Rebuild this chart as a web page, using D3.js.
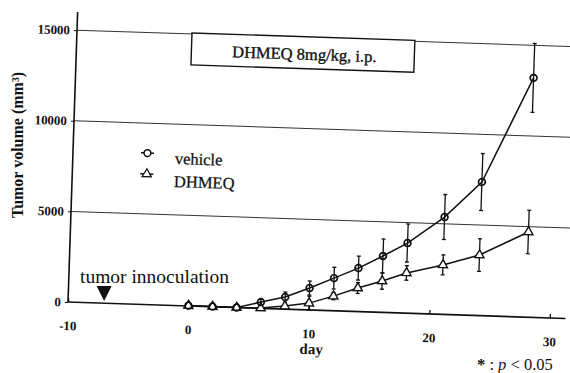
<!DOCTYPE html>
<html>
<head>
<meta charset="utf-8">
<script src="https://cdn.jsdelivr.net/npm/d3@7"></script>
<style>
  body { margin: 0; background: #fff; }
  svg { display: block; }
  text { font-family: "Liberation Serif", "Times New Roman", serif; fill: #111; }
</style>
</head>
<body>
<script>
// ---- data ----
const days        = [0, 2, 4, 6, 8, 10, 12, 14, 16, 18, 21, 24, 28];
const vehicleMean = [20, 10, 0, 350, 670, 1210, 1800, 2400, 3110, 3870, 5370, 7370, 13200];
const vehicleSE   = [40, 40, 40, 150, 280, 390, 600, 660, 940, 1050, 1240, 1570, 1900];
const dhmeqMean   = [20, 10, 0, 20, 170, 380, 810, 1300, 1730, 2220, 2730, 3340, 4700];
const dhmeqSE     = [30, 30, 30, 60, 150, 380, 200, 300, 450, 400, 550, 900, 1200];
const xTicks = [-10, 0, 10, 20, 30];
const yTicks = [0, 5000, 10000, 15000];
const gridValues = [5000, 10000, 15000];
const seriesNames = ["vehicle", "DHMEQ"];
const boxTitle = "DHMEQ 8mg/kg, i.p.";
const inoculationDay = -7;

const W = 570, H = 373;
const svg = d3.select("body").append("svg").attr("width", W).attr("height", H);

const x = d3.scaleLinear().domain([-10, 30]).range([68, 550]);
const y = d3.scaleLinear().domain([0, 15000]).range([302, 30]);

// scanned figure is slightly rotated
const g = svg.append("g").attr("transform", "rotate(1.9,68,302)");

// gridlines
g.selectAll("line.grid").data(gridValues).enter().append("line")
  .attr("class", "grid")
  .attr("x1", x(-10)).attr("x2", x(31.6))
  .attr("y1", d => y(d)).attr("y2", d => y(d))
  .attr("stroke", "#333").attr("stroke-width", 1);

// axis lines
g.append("line").attr("x1", x(-10)).attr("x2", x(31.3)).attr("y1", y(0)).attr("y2", y(0))
  .attr("stroke", "#111").attr("stroke-width", 1.6);
g.append("line").attr("x1", x(-10)).attr("x2", x(-10)).attr("y1", y(0)).attr("y2", y(16000))
  .attr("stroke", "#111").attr("stroke-width", 1.6);

// x axis
const xAxis = g.append("g").attr("transform", `translate(0,${y(0)})`)
  .call(d3.axisBottom(x).tickValues(xTicks).tickSizeInner(-4).tickSizeOuter(0).tickPadding(19).tickFormat(d => String(d)));
xAxis.select(".domain").remove();
xAxis.selectAll(".tick line").attr("stroke", "#111").attr("stroke-width", 1.3);
xAxis.selectAll(".tick text").attr("font-size", 13).attr("font-weight", "bold")
  .attr("font-family", "'Liberation Serif', serif").attr("fill", "#111");

// y axis
const yAxis = g.append("g").attr("transform", `translate(${x(-10)},0)`)
  .call(d3.axisLeft(y).tickValues(yTicks).tickSize(3).tickPadding(4).tickFormat(d => String(d)));
yAxis.select(".domain").remove();
yAxis.selectAll(".tick line").attr("stroke", "#111");
yAxis.selectAll(".tick text").attr("font-size", 13).attr("font-weight", "bold")
  .attr("font-family", "'Liberation Serif', serif").attr("fill", "#111");

// x axis title
g.append("text").attr("x", x(10.3)).attr("y", y(0) + 44).attr("text-anchor", "middle")
  .attr("font-size", 15).attr("font-weight", "bold").text("day");

// title box
g.append("rect").attr("x", 183).attr("y", 29).attr("width", 223).attr("height", 32)
  .attr("fill", "#fff").attr("stroke", "#111").attr("stroke-width", 1.4);
g.append("text").attr("x", 296).attr("y", 52).attr("text-anchor", "middle")
  .attr("font-size", 16.5).attr("stroke", "#111").attr("stroke-width", 0.35).text(boxTitle);

// series
const vehicle = days.map((d, i) => ({ day: d, v: vehicleMean[i], se: vehicleSE[i] }));
const dhmeq   = days.map((d, i) => ({ day: d, v: dhmeqMean[i], se: dhmeqSE[i] }));
const line = d3.line().x(d => x(d.day)).y(d => y(d.v));

function errorBars(data) {
  const eb = g.append("g").attr("stroke", "#111").attr("stroke-width", 1.3);
  eb.selectAll("line.v").data(data).enter().append("line")
    .attr("x1", d => x(d.day)).attr("x2", d => x(d.day))
    .attr("y1", d => y(d.v + d.se)).attr("y2", d => y(d.v - d.se));
  eb.selectAll("line.t").data(data).enter().append("line")
    .attr("x1", d => x(d.day) - 2).attr("x2", d => x(d.day) + 2)
    .attr("y1", d => y(d.v + d.se)).attr("y2", d => y(d.v + d.se));
  eb.selectAll("line.b").data(data).enter().append("line")
    .attr("x1", d => x(d.day) - 2).attr("x2", d => x(d.day) + 2)
    .attr("y1", d => y(d.v - d.se)).attr("y2", d => y(d.v - d.se));
}
errorBars(dhmeq);
errorBars(vehicle);

g.append("path").datum(dhmeq).attr("d", line).attr("fill", "none").attr("stroke", "#111").attr("stroke-width", 1.5);
g.append("path").datum(vehicle).attr("d", line).attr("fill", "none").attr("stroke", "#111").attr("stroke-width", 1.5);

const tri = d3.symbol().type(d3.symbolTriangle).size(36);
g.selectAll("path.tri").data(dhmeq).enter().append("path")
  .attr("d", tri).attr("transform", d => `translate(${x(d.day)},${y(d.v)})`)
  .attr("fill", "#fff").attr("stroke", "#111").attr("stroke-width", 1.4);
g.selectAll("circle.pt").data(vehicle).enter().append("circle")
  .attr("cx", d => x(d.day)).attr("cy", d => y(d.v)).attr("r", 3.4)
  .attr("fill", "none").attr("stroke", "#111").attr("stroke-width", 1.7);

// legend
const leg = g.append("g");
[[150.5, 160.5], [171.5, 183.5]].forEach((p, i) => {
  leg.append("line").attr("x1", 136).attr("x2", 149).attr("y1", p[0]).attr("y2", p[0])
    .attr("stroke", "#111").attr("stroke-width", 1.5);
  if (i === 0) {
    leg.append("circle").attr("cx", 142.5).attr("cy", p[0]).attr("r", 3.4)
      .attr("fill", "#fff").attr("stroke", "#111").attr("stroke-width", 1.5);
  } else {
    leg.append("path").attr("d", tri).attr("transform", `translate(142.5,${p[0]})`)
      .attr("fill", "#fff").attr("stroke", "#111").attr("stroke-width", 1.3);
  }
  leg.append("text").attr("x", 170).attr("y", p[1]).attr("font-size", 16.5)
    .attr("stroke", "#111").attr("stroke-width", 0.25).text(seriesNames[i]);
});

// y axis title
svg.append("text").attr("transform", "translate(23,145) rotate(-90)").attr("text-anchor", "middle")
  .attr("font-size", 16).attr("font-weight", "bold").text("Tumor volume (mm³)");

// inoculation annotation
svg.append("text").attr("x", 80).attr("y", 283).attr("font-size", 19.5).text("tumor innoculation");
const ix = x(inoculationDay);
svg.append("path").attr("d", d3.line()([[ix - 7.5, 286], [ix + 7.5, 286], [ix, 301]]) + "Z").attr("fill", "#111");

// footnote
const fn = svg.append("text").attr("x", 477).attr("y", 370).attr("font-size", 16.5);
fn.append("tspan").attr("font-weight", "bold").text("*");
fn.append("tspan").text(" : ");
fn.append("tspan").attr("font-style", "italic").text("p");
fn.append("tspan").text(" < 0.05");
</script>
</body>
</html>
